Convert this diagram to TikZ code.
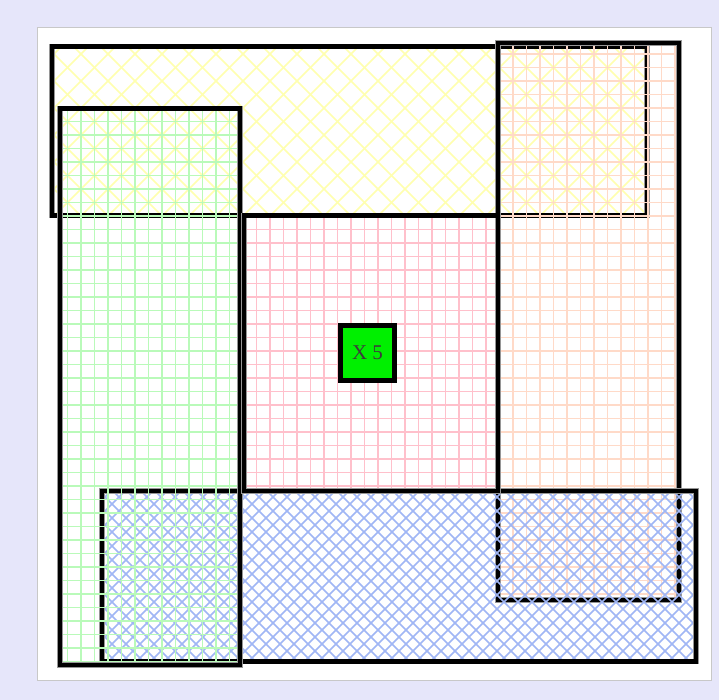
\documentclass[tikz,border=0pt]{standalone}
\usepackage{fontspec}
\setmainfont{Liberation Serif}
\definecolor{lav}{RGB}{230,230,250}
\definecolor{panelgray}{RGB}{200,200,200}
\definecolor{edgegray}{RGB}{150,150,150}
\definecolor{ylw}{RGB}{255,255,175}
\definecolor{grn}{RGB}{185,250,185}
\definecolor{pnk}{RGB}{255,192,203}
\definecolor{pch}{RGB}{255,218,200}
\definecolor{blu}{RGB}{160,182,245}
\definecolor{xgreen}{RGB}{0,240,0}
\definecolor{txtgray}{RGB}{60,60,60}
\newcommand\gridfill[5]{%
  \begin{scope}
    \clip (#2,#3) rectangle (#4,#5);
    \foreach \i in {0,...,54}{%
      \draw[#1,line width=1.3pt] ({\i*13.5},0)--({\i*13.5},700);
      \draw[#1,line width=1.3pt] (0,{\i*13.5})--(719,{\i*13.5});
    }
  \end{scope}}
% #1 colour, #2 spacing, #3 first index, #4 last index, #5..#8 rectangle
\newcommand\hatchfill[8]{%
  \begin{scope}
    \clip (#5,#6) rectangle (#7,#8);
    \foreach \i in {#3,...,#4}{%
      \draw[#1,line width=1.5pt] ({\i*#2},0)--({\i*#2+700},700);
      \draw[#1,line width=1.5pt] ({\i*#2},0)--({\i*#2-700},700);
    }
  \end{scope}}
\tikzset{
  frame/.style={draw=edgegray, double=black, double distance=4.2pt, line width=0.6pt},
}
\begin{document}
\begin{tikzpicture}[x=1pt,y=-1pt]
\useasboundingbox (0,0) rectangle (719,700);
\fill[lav] (0,0) rectangle (719,700);
\filldraw[fill=white, draw=panelgray, line width=1pt] (37,28) rectangle (711,680);
% yellow (top)
\hatchfill{ylw}{27}{-27}{54}{52}{46.5}{647}{215.5}
\draw[frame] (52,46.5) rectangle (647,215.5);
% peach (right)
\gridfill{pch}{498}{43}{679}{600}
\draw[frame] (498,43) rectangle (679,600);
% blue (bottom)
\hatchfill{blu}{14}{-51}{102}{102}{491}{696}{661.5}
\draw[frame] (102,491) rectangle (696,661.5);
% green (left)
\gridfill{grn}{60}{108.5}{240}{665}
\draw[frame] (60,108.5) rectangle (240,665);
% pink (centre)
\gridfill{pnk}{244}{215.5}{498}{491}
\draw[frame] (244,215.5) rectangle (498,491);
% label
\node[frame, fill=xgreen, minimum width=54pt, minimum height=55pt, inner sep=0pt,
      font=\fontsize{21}{21}\selectfont, text=txtgray] (x5) at (367.5,353) {X 5};
\end{tikzpicture}
\end{document}
